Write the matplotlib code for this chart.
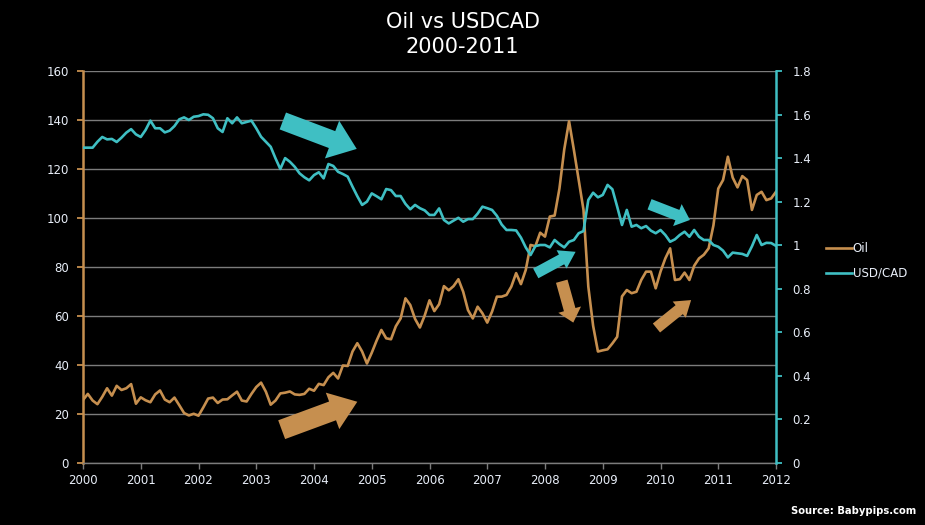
import numpy as np
import matplotlib
matplotlib.use("Agg")
import matplotlib.pyplot as plt

# %% data (monthly, Jan 2000 .. Jan 2012)
years = [2000, 2001, 2002, 2003, 2004, 2005, 2006, 2007, 2008, 2009, 2010, 2011, 2012]

oil = [25.7, 28.2, 25.5, 24.0, 27.0, 30.5, 27.5, 31.5, 29.8, 30.5, 32.2, 24.2,
       26.8, 25.6, 24.8, 28.0, 29.6, 25.9, 24.8, 26.7, 23.6, 20.4, 19.4, 20.1,
       19.3, 22.7, 26.3, 26.7, 24.5, 25.9, 26.0, 27.6, 29.1, 25.5, 25.1, 28.2,
       31.0, 32.8, 29.1, 23.8, 25.5, 28.4, 28.7, 29.2, 28.0, 27.8, 28.2, 30.3,
       29.5, 32.3, 31.8, 35.0, 36.8, 34.5, 39.8, 39.6, 45.5, 48.9, 45.5, 40.6,
       45.0, 49.9, 54.3, 50.9, 50.5, 55.8, 59.0, 67.2, 64.5, 58.8, 55.3, 60.2,
       66.4, 62.0, 64.8, 72.2, 70.5, 72.2, 75.0, 69.9, 62.4, 59.0, 63.8, 61.1,
       57.3, 61.8, 67.9, 67.9, 68.6, 72.0, 77.5, 73.0, 78.8, 89.0, 88.5, 94.0,
       92.4, 100.6, 101.0, 112.0, 128.0, 139.5, 127.8, 115.5, 103.3, 72.0, 56.0, 45.5,
       46.0, 46.4, 48.8, 51.5, 68.0, 70.6, 69.3, 69.9, 74.7, 78.1, 78.1, 71.3,
       78.1, 83.5, 87.6, 74.7, 75.0, 77.7, 74.7, 80.5, 83.5, 85.0, 87.6, 97.0,
       112.0, 115.5, 125.0, 116.5, 112.5, 117.1, 115.5, 103.3, 109.4, 110.7, 107.3, 108.0,
       110.7]

usdcad = [1.448, 1.448, 1.448, 1.475, 1.497, 1.486, 1.488, 1.474, 1.494, 1.517, 1.533, 1.509,
          1.497, 1.529, 1.572, 1.537, 1.537, 1.518, 1.526, 1.547, 1.578, 1.587, 1.575, 1.590,
          1.593, 1.601, 1.599, 1.583, 1.537, 1.520, 1.583, 1.560, 1.587, 1.560, 1.566, 1.572,
          1.537, 1.498, 1.475, 1.452, 1.399, 1.350, 1.400, 1.383, 1.360, 1.330, 1.312, 1.298,
          1.322, 1.335, 1.307, 1.373, 1.364, 1.337, 1.327, 1.315, 1.269, 1.225, 1.185, 1.200,
          1.238, 1.225, 1.211, 1.258, 1.253, 1.226, 1.226, 1.190, 1.165, 1.185, 1.170, 1.160,
          1.139, 1.139, 1.169, 1.116, 1.100, 1.113, 1.126, 1.108, 1.120, 1.120, 1.145, 1.177,
          1.170, 1.162, 1.135, 1.095, 1.070, 1.070, 1.068, 1.035, 0.990, 0.955, 0.996, 1.001,
          1.001, 0.990, 1.024, 1.005, 0.990, 1.016, 1.024, 1.055, 1.065, 1.208, 1.241, 1.220,
          1.231, 1.277, 1.257, 1.177, 1.093, 1.162, 1.085, 1.093, 1.078, 1.088, 1.067, 1.055,
          1.070, 1.047, 1.016, 1.027, 1.047, 1.062, 1.039, 1.070, 1.039, 1.024, 1.024, 1.001,
          0.993, 0.975, 0.944, 0.966, 0.963, 0.960, 0.951, 0.995, 1.047, 1.001, 1.011, 1.010,
          0.997]

t = 2000 + np.arange(len(oil)) / 12.0

# %% styling
BROWN = '#C68F4F'
TEAL = '#3FBFC3'
GRID = '#7C7C7C'
TXT = '#E8EEF8'

plt.rcParams['font.family'] = ['DejaVu Sans']

fig = plt.figure(figsize=(9.25, 5.25), dpi=100, facecolor='black')
ax = fig.add_axes([83/925, 1 - 463/525, 693/925, 392/525], facecolor='black')
ax2 = ax.twinx()

l1, = ax.plot(t, oil, color=BROWN, lw=1.9, label='Oil', zorder=3)
l2, = ax2.plot(t, usdcad, color=TEAL, lw=1.9, label='USD/CAD', zorder=3)

ax.set_xlim(2000, 2012)
ax.set_ylim(0, 160)
ax2.set_ylim(0, 1.8)
ax.set_xticks(years)
ax.set_xticklabels([str(y) for y in years])
ax.set_yticks(np.arange(0, 161, 20))
ax2.set_yticks(np.arange(0, 1.81, 0.2))
ax2.set_yticklabels(['0', '0.2', '0.4', '0.6', '0.8', '1', '1.2', '1.4', '1.6', '1.8'])

ax.grid(axis='y', color=GRID, lw=1.0)
ax.set_axisbelow(True)

for a in (ax, ax2):
    for s in a.spines.values():
        s.set_visible(False)
ax.spines['left'].set_visible(True)
ax.spines['left'].set_color(BROWN)
ax.spines['left'].set_linewidth(1.8)
ax.spines['bottom'].set_visible(True)
ax.spines['bottom'].set_color(GRID)
ax.spines['bottom'].set_linewidth(1.0)
ax2.spines['right'].set_visible(True)
ax2.spines['right'].set_color(TEAL)
ax2.spines['right'].set_linewidth(1.8)

ax.tick_params(axis='y', colors=BROWN, labelcolor=TXT, labelsize=8.5, length=4, width=1.3, pad=6)
ax.tick_params(axis='x', colors=GRID, labelcolor=TXT, labelsize=8.5, length=4, width=1, pad=4)
ax2.tick_params(axis='y', colors=TEAL, labelcolor=TXT, labelsize=8.5, length=4, width=1.3, pad=8)

# %% arrows (data coords of left axis), widths in points
arrows = [
    ((2003.46, 139.6), (2004.74, 128.2), TEAL, 13, 29, 19),
    ((2003.44, 13.6), (2004.75, 25.0), BROWN, 14.4, 28, 19),
    ((2007.84, 77.4), (2008.53, 86.2), TEAL, 8, 15, 11.5),
    ((2008.29, 74.2), (2008.49, 57.3), BROWN, 8.6, 17, 9.7),
    ((2009.93, 55.1), (2010.53, 66.5), BROWN, 8.3, 15, 11),
    ((2009.81, 105.6), (2010.51, 99.2), TEAL, 8, 17, 9.7),
]
for tail, tip, c, tw, hw, hl in arrows:
    ax.annotate('', xy=tip, xytext=tail, zorder=6,
                arrowprops=dict(arrowstyle='simple,tail_width=%g,head_width=%g,head_length=%g' % (tw, hw, hl),
                                mutation_scale=1, color=c, lw=0, shrinkA=0, shrinkB=0))

# %% title, legend, source
fig.text(0.5, 1 - 22/525, 'Oil vs USDCAD', color='white', fontsize=15, ha='center', va='center')
fig.text(0.5, 1 - 47/525, '2000-2011', color='white', fontsize=15, ha='center', va='center')

leg = fig.legend([l1, l2], ['Oil', 'USD/CAD'], loc='center left',
                 bbox_to_anchor=(815/925, 1 - 261/525), frameon=False,
                 handlelength=2.2, handletextpad=0.1, labelspacing=1.0, fontsize=8.5)
for txt in leg.get_texts():
    txt.set_color(TXT)

fig.text(916/925, 1 - 511/525, 'Source: Babypips.com', color='white', fontsize=7.2,
         fontweight='bold', ha='right', va='center')

fig.savefig('out.png', dpi=100, facecolor='black')
